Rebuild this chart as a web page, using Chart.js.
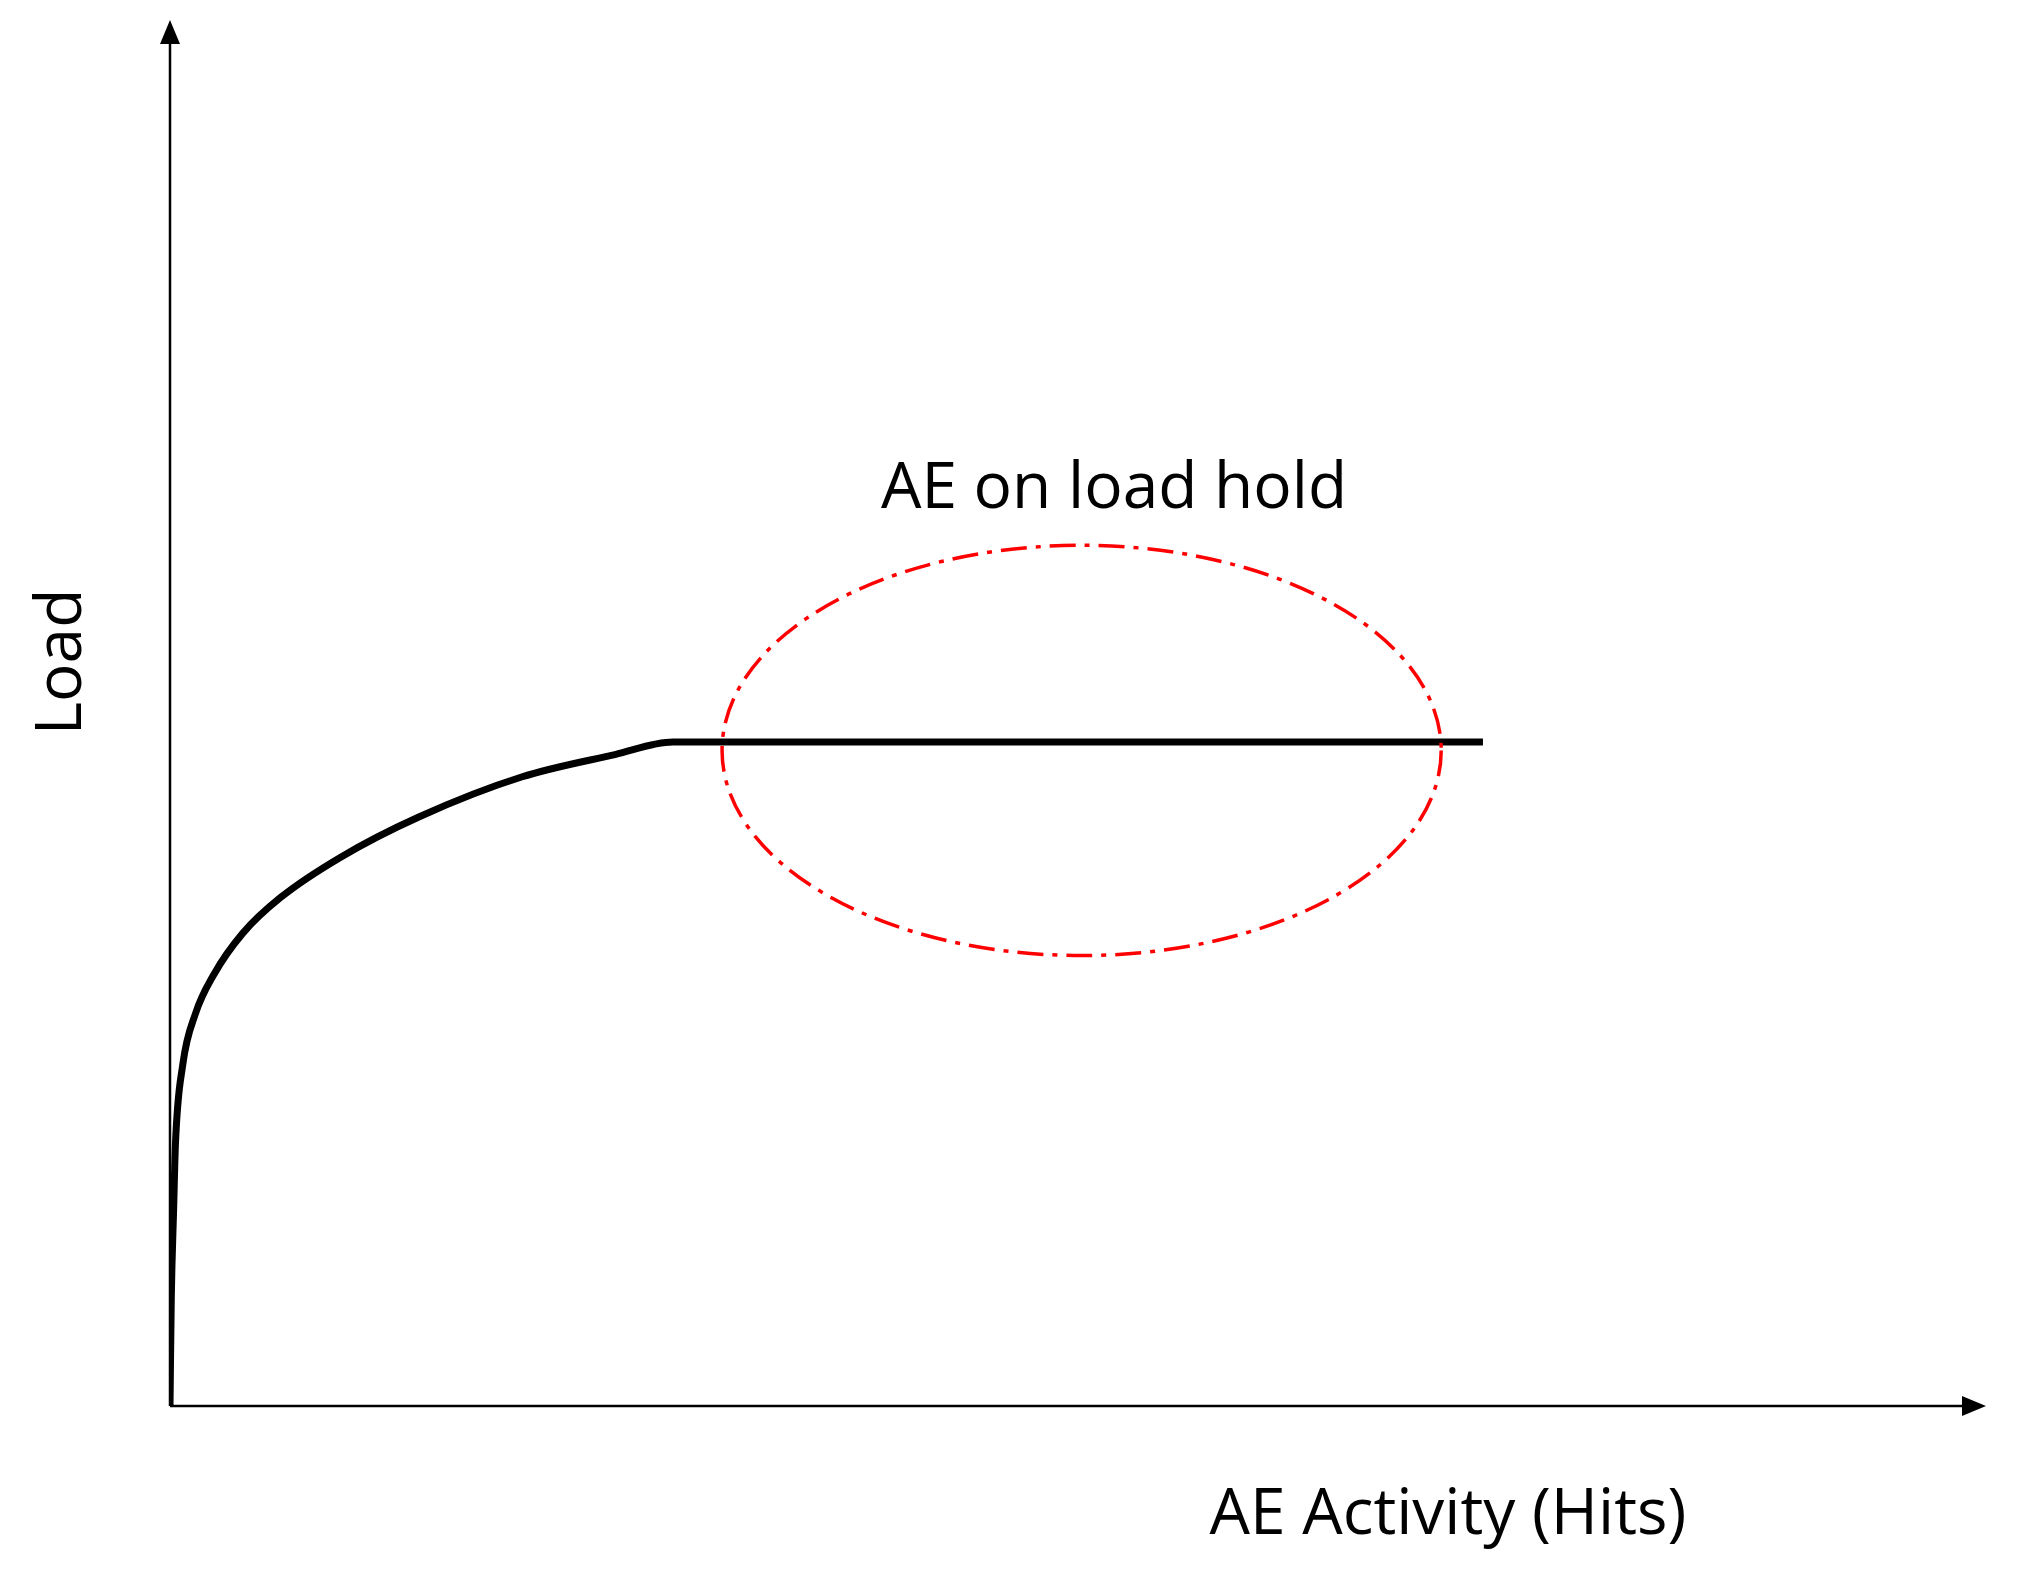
<!DOCTYPE html>
<html>
<head>
<meta charset="utf-8">
<script src="https://cdn.jsdelivr.net/npm/chart.js@4"></script>
<style>
  html, body { margin: 0; padding: 0; background: #fff; }
  #wrap { width: 2036px; height: 1595px; }
</style>
</head>
<body>
<div id="wrap"><canvas id="chart"></canvas></div>
<script>
// Load curve (AE activity in arbitrary units, load in % of axis)
const hits = [0, 0.07, 0.2, 0.3, 0.7, 1.4, 2.4, 4.0, 6.1, 9.4, 13.7, 19.4, 24.5, 27.7, 72.3];
const load = [0, 7.7, 14.2, 18.9, 24.6, 28.3, 31.1, 34.1, 36.7, 39.6, 42.5, 45.4, 47.0, 47.9, 47.9];

// Load-hold region (ellipse centre and radii, data units)
const holdCenter = [50.2, 47.3];
const holdRadius = [19.8, 14.8];

const xTitle = 'AE Activity (Hits)';
const yTitle = 'Load';
const holdLabel = 'AE on load hold';

const decor = {
    id: 'decor',
    afterDatasetsDraw(chart) {
        const { ctx, scales: { x, y } } = chart;
        const x0 = x.getPixelForValue(0), y0 = y.getPixelForValue(0);
        const xEnd = x.getPixelForValue(100), yEnd = y.getPixelForValue(100);
        ctx.save();
        // axes
        ctx.strokeStyle = '#000';
        ctx.fillStyle = '#000';
        ctx.lineWidth = 2.5;
        ctx.beginPath();
        ctx.moveTo(x0, y0); ctx.lineTo(xEnd - 20, y0);
        ctx.moveTo(x0, y0); ctx.lineTo(x0, yEnd + 20);
        ctx.stroke();
        ctx.beginPath();
        ctx.moveTo(xEnd, y0); ctx.lineTo(xEnd - 24, y0 - 10); ctx.lineTo(xEnd - 24, y0 + 10); ctx.closePath();
        ctx.moveTo(x0, yEnd); ctx.lineTo(x0 - 10, yEnd + 24); ctx.lineTo(x0 + 10, yEnd + 24); ctx.closePath();
        ctx.fill();
        // ellipse
        const cx = x.getPixelForValue(holdCenter[0]), cy = y.getPixelForValue(holdCenter[1]);
        const rx = x.getPixelForValue(holdCenter[0] + holdRadius[0]) - cx;
        const ry = cy - y.getPixelForValue(holdCenter[1] + holdRadius[1]);
        ctx.strokeStyle = '#ff0000';
        ctx.lineWidth = 3.5;
        ctx.setLineDash([26, 9, 5, 9]);
        ctx.beginPath();
        ctx.ellipse(cx, cy, rx, ry, 0, 0, Math.PI * 2);
        ctx.stroke();
        ctx.setLineDash([]);
        // text
        ctx.fillStyle = '#000';
        ctx.font = '64px "Open Sans", "Noto Sans", sans-serif';
        ctx.textAlign = 'center';
        ctx.textBaseline = 'middle';
        ctx.fillText(holdLabel, 1114, 490);
        ctx.fillText(xTitle, 1448, 1516);
        ctx.translate(63, 662);
        ctx.rotate(-Math.PI / 2);
        ctx.fillText(yTitle, 0, 0);
        ctx.restore();
    }
};

new Chart(document.getElementById('chart'), {
    type: 'scatter',
    data: {
        datasets: [{
            data: hits.map((h, i) => ({ x: h, y: load[i] })),
            showLine: true,
            borderColor: '#000',
            borderWidth: 7,
            pointRadius: 0,
            tension: 0.3,
            cubicInterpolationMode: 'monotone'
        }]
    },
    options: {
        responsive: true,
        maintainAspectRatio: false,
        animation: false,
        layout: { padding: { left: 170, right: 50, top: 20, bottom: 189 } },
        plugins: { legend: { display: false }, tooltip: { enabled: false } },
        scales: {
            x: { type: 'linear', min: 0, max: 100, display: false },
            y: { type: 'linear', min: 0, max: 100, display: false }
        }
    },
    plugins: [decor]
});
</script>
</body>
</html>
